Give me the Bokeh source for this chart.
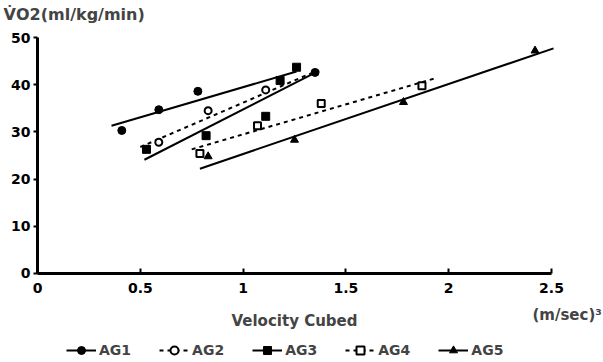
from bokeh.plotting import figure
from bokeh.models import Label, Legend, LegendItem, Range1d, FixedTicker, LinearAxis
from bokeh.embed import file_html
from bokeh.resources import INLINE

# ---- data ----
groups = ["AG1", "AG2", "AG3", "AG4", "AG5"]

ag1_x = [0.41, 0.59, 0.78, 1.35]
ag1_y = [30.3, 34.7, 38.6, 42.6]
ag2_x = [0.59, 0.83, 1.11]
ag2_y = [27.8, 34.5, 38.9]
ag3_x = [0.53, 0.82, 1.11, 1.18, 1.26]
ag3_y = [26.3, 29.2, 33.3, 40.9, 43.7]
ag4_x = [0.79, 1.07, 1.38, 1.87]
ag4_y = [25.4, 31.3, 36.0, 39.8]
ag5_x = [0.83, 1.25, 1.78, 2.42]
ag5_y = [24.8, 28.3, 36.3, 47.2]

# fitted lines (end points)
fit1_x = [0.36, 1.26]; fit1_y = [31.3, 42.8]
fit2_x = [0.50, 1.33]; fit2_y = [26.8, 42.4]
fit3_x = [0.52, 1.37]; fit3_y = [24.1, 43.0]
fit4_x = [0.75, 1.93]; fit4_y = [26.3, 41.3]
fit5_x = [0.79, 2.51]; fit5_y = [22.2, 47.7]

x_ticks = [0, 0.5, 1, 1.5, 2, 2.5]
x_tick_labels = ["0", "0.5", "1", "1.5", "2", "2.5"]
y_ticks = [0, 10, 20, 30, 40, 50]

FONT = "DejaVu Sans"

p = figure(width=603, height=362, output_backend="svg", toolbar_location=None,
           x_range=Range1d(-0.18, 2.753), y_range=Range1d(-18.86, 57.84),
           x_axis_location=None, y_axis_location=None,
           min_border=0)
p.grid.visible = False
p.outline_line_color = None

xaxis = LinearAxis(fixed_location=0, bounds=(0, 2.5))
yaxis = LinearAxis(fixed_location=0, bounds=(0, 50))
p.add_layout(xaxis, "below")
p.add_layout(yaxis, "left")

for ax in (xaxis, yaxis):
    ax.axis_line_width = 3
    ax.axis_line_color = "black"
    ax.major_tick_line_width = 2
    ax.major_tick_line_color = "black"
    ax.minor_tick_line_color = None
    ax.major_label_text_font = FONT
    ax.major_label_text_font_style = "bold"
    ax.major_label_text_font_size = "14px"
    ax.major_label_text_color = "black"

xaxis.ticker = FixedTicker(ticks=x_ticks)
xaxis.major_label_overrides = {t: l for t, l in zip(x_ticks, x_tick_labels)}
xaxis.major_tick_in = 5
xaxis.major_tick_out = 0
xaxis.major_label_standoff = 10
xaxis.axis_label = "Velocity Cubed"
xaxis.axis_label_text_font = FONT
xaxis.axis_label_text_font_style = "bold"
xaxis.axis_label_text_font_size = "15px"
xaxis.axis_label_standoff = 15

yaxis.ticker = FixedTicker(ticks=y_ticks)
yaxis.major_tick_in = 0
yaxis.major_tick_out = 4
yaxis.major_label_standoff = 3

black = "black"

# fitted lines
l1 = p.line(fit1_x, fit1_y, line_color=black, line_width=2)
l2 = p.line(fit2_x, fit2_y, line_color=black, line_width=2, line_dash="4 4")
l3 = p.line(fit3_x, fit3_y, line_color=black, line_width=2)
l4 = p.line(fit4_x, fit4_y, line_color=black, line_width=2, line_dash="4 4")
l5 = p.line(fit5_x, fit5_y, line_color=black, line_width=2)

# points
s1 = p.scatter(ag1_x, ag1_y, marker="circle", size=8, fill_color=black, line_color=black)
s2 = p.scatter(ag2_x, ag2_y, marker="circle", size=7, fill_color="white", line_color=black, line_width=2)
s3 = p.scatter(ag3_x, ag3_y, marker="square", size=8, fill_color=black, line_color=black)
s4 = p.scatter(ag4_x, ag4_y, marker="square", size=7, fill_color="white", line_color=black, line_width=2)
s5 = p.scatter(ag5_x, ag5_y, marker="triangle", size=8, fill_color=black, line_color=black)

legend = Legend(items=[
    LegendItem(label="AG1", renderers=[l1, s1]),
    LegendItem(label="AG2", renderers=[l2, s2]),
    LegendItem(label="AG3", renderers=[l3, s3]),
    LegendItem(label="AG4", renderers=[l4, s4]),
    LegendItem(label="AG5", renderers=[l5, s5]),
], orientation="horizontal", location=(66, 2),
   label_text_font=FONT, label_text_font_style="bold", label_text_font_size="14px",
   glyph_width=30, label_standoff=3, spacing=28, padding=0, margin=0,
   border_line_color=None, background_fill_alpha=0)
p.add_layout(legend, "center")

p.add_layout(Label(x=-0.165, y=54.8, text="V\u0307O2(ml/kg/min)", text_font=FONT,
                   text_font_style="bold", text_font_size="16px",
                   text_baseline="middle", text_align="left"))
p.add_layout(Label(x=2.745, y=-8.9, text="(m/sec)\u00b3", text_font=FONT,
                   text_font_style="bold", text_font_size="15px",
                   text_baseline="middle", text_align="right"))

open("out.html", "w").write(file_html(p, INLINE))
